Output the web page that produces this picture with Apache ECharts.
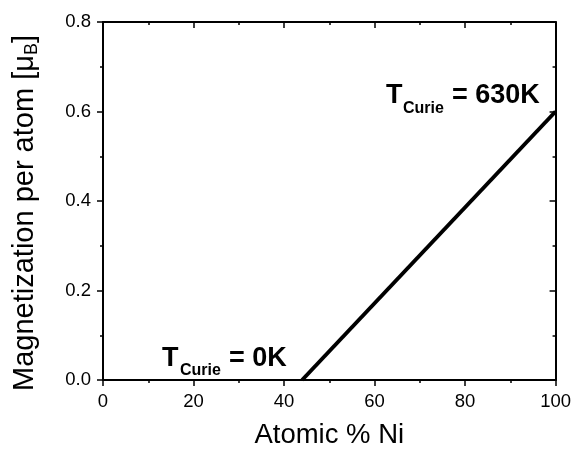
<!DOCTYPE html>
<html>
<head>
<meta charset="utf-8">
<script src="https://cdn.jsdelivr.net/npm/echarts@6/dist/echarts.min.js"></script>
<style>
  html, body { margin: 0; padding: 0; background: #fff; }
  #main { width: 574px; height: 454px; }
</style>
</head>
<body>
<div id="main"></div>
<script>
// data
var niPercent = [44, 100];          // Atomic % Ni
var magnetization = [0, 0.6];       // mu_B per atom
var xRange = [0, 100];
var yRange = [0, 0.8];

var FONT = "'Liberation Sans', Arial, sans-serif";
var myChart = echarts.init(document.getElementById("main"));

var points = niPercent.map(function (x, i) { return [x, magnetization[i]]; });

function axisBase(extra) {
    var base = {
        type: "value",
        splitLine: { show: false },
        axisLine: { show: true, onZero: false, lineStyle: { color: "#000", width: 2 } },
        axisTick: { show: true, inside: false, length: 6, lineStyle: { color: "#000", width: 1.5 } },
        minorTick: { show: true, splitNumber: 2, length: 3, lineStyle: { color: "#000", width: 1.5 } },
        axisLabel: { color: "#000", fontSize: 18.5, fontFamily: FONT, margin: 12 }
    };
    return Object.assign(base, extra);
}

var option = {
    animation: false,
    backgroundColor: "#fff",
    grid: { left: 103, right: 18, top: 22, bottom: 71 },
    xAxis: [
        axisBase({
            position: "bottom", min: xRange[0], max: xRange[1], interval: 20,
            name: "Atomic % Ni", nameLocation: "middle", nameGap: 41,
            nameTextStyle: { color: "#000", fontSize: 27.5, fontFamily: FONT }
        }),
        axisBase({
            position: "top", min: xRange[0], max: xRange[1], interval: 20,
            axisTick: { show: true, inside: true, length: 6, lineStyle: { color: "#000", width: 1.5 } },
            minorTick: { show: true, splitNumber: 2, length: 3, lineStyle: { color: "#000", width: 1.5 } },
            axisLabel: { show: false }
        })
    ],
    yAxis: [
        axisBase({
            position: "left", min: yRange[0], max: yRange[1], interval: 0.2,
            axisLabel: { color: "#000", fontSize: 18.5, fontFamily: FONT, margin: 12,
                formatter: function (v) { return v.toFixed(1); } },
            name: "Magnetization per atom [μ{sub|B}]", nameLocation: "middle", nameGap: 62,
            nameTextStyle: {
                color: "#000", fontSize: 29, fontFamily: FONT, padding: [0, 24, 0, 0],
                rich: { sub: { fontSize: 18, fontFamily: FONT, color: "#000", padding: [14, 0, 0, 0] } }
            }
        }),
        axisBase({
            position: "right", min: yRange[0], max: yRange[1], interval: 0.2,
            axisTick: { show: true, inside: true, length: 6, lineStyle: { color: "#000", width: 1.5 } },
            minorTick: { show: true, splitNumber: 2, length: 3, lineStyle: { color: "#000", width: 1.5 } },
            axisLabel: { show: false }
        })
    ],
    series: [{
        type: "line",
        data: points,
        symbol: "none",
        lineStyle: { color: "#000", width: 4 },
        z: 5
    }],
    graphic: [
        { type: "text", left: 386, top: 82, style: { text: "T", font: "bold 27px " + FONT, fill: "#000" } },
        { type: "text", left: 403, top: 101, style: { text: "Curie", font: "bold 16px " + FONT, fill: "#000" } },
        { type: "text", left: 452, top: 82, style: { text: "= 630K", font: "bold 27px " + FONT, fill: "#000" } },
        { type: "text", left: 162, top: 345, style: { text: "T", font: "bold 27px " + FONT, fill: "#000" } },
        { type: "text", left: 180, top: 363, style: { text: "Curie", font: "bold 16px " + FONT, fill: "#000" } },
        { type: "text", left: 229, top: 345, style: { text: "= 0K", font: "bold 27px " + FONT, fill: "#000" } }
    ]
};

myChart.setOption(option);
window.addEventListener("resize", function () { myChart.resize(); });
</script>
</body>
</html>
